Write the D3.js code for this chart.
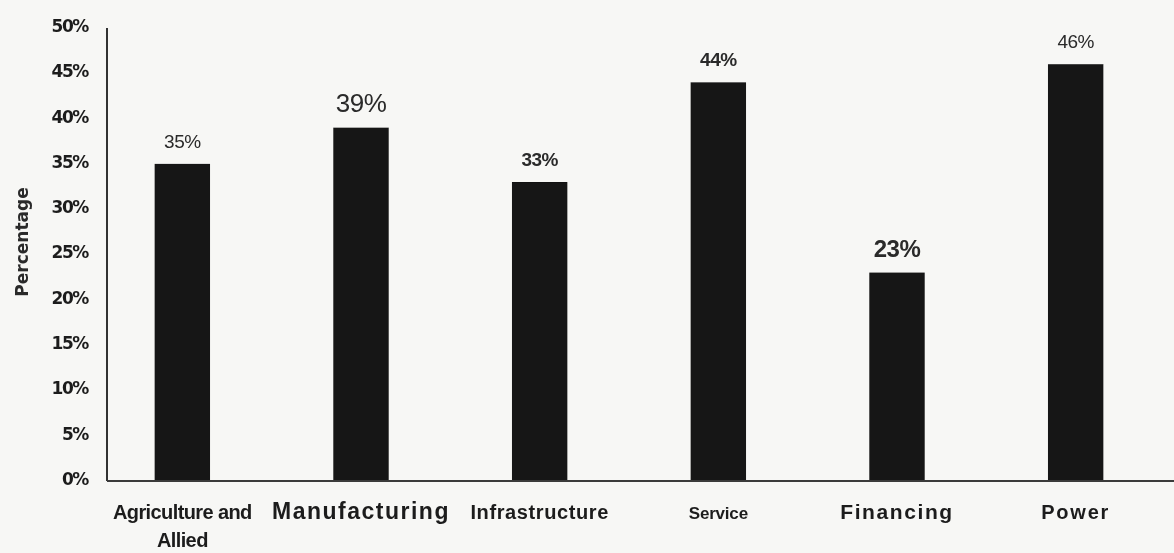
<!DOCTYPE html>
<html>
<head>
<meta charset="utf-8">
<script src="https://cdn.jsdelivr.net/npm/d3@7"></script>
<style>
  html, body { margin: 0; padding: 0; background: #f7f7f5; }
  svg { display: block; }
</style>
</head>
<body>
<svg id="chart" width="1174" height="553"></svg>
<script>
// Share by sector (percent)
const categories = ["Agriculture and Allied", "Manufacturing", "Infrastructure", "Service", "Financing", "Power"];
const values = [35, 39, 33, 44, 23, 46];
const yTicks = [0, 5, 10, 15, 20, 25, 30, 35, 40, 45, 50];

// Typography for each category and value label
const categoryFont = [
  { size: 20, weight: "bold", spacing: -0.6 },
  { size: 23, weight: "bold", spacing: 1.5 },
  { size: 20, weight: "bold", spacing: 0.6 },
  { size: 17, weight: "bold", spacing: -0.2 },
  { size: 21, weight: "bold", spacing: 1.6 },
  { size: 20, weight: "bold", spacing: 1.8 }
];
const valueFont = [
  { size: 19, weight: "normal" },
  { size: 26, weight: "normal" },
  { size: 19, weight: "bold" },
  { size: 19, weight: "bold" },
  { size: 24, weight: "bold" },
  { size: 19, weight: "normal" }
];

const svg = d3.select("#chart");

// Slight softness of the printed figure
svg.append("defs")
  .append("filter")
  .attr("id", "soft")
  .append("feGaussianBlur")
  .attr("stdDeviation", 0.55);

const root = svg.append("g").attr("filter", "url(#soft)");
const axisX = 107;

const x = d3.scaleBand()
  .domain(categories)
  .range([93, 1165])
  .paddingInner(0.69)
  .paddingOuter(0.345);

const y = d3.scaleLinear()
  .domain([0, 50])
  .range([481, 28]);

// Bars
root.append("g")
  .selectAll("rect")
  .data(categories)
  .join("rect")
  .attr("x", d => x(d))
  .attr("y", (d, i) => y(values[i]))
  .attr("width", x.bandwidth())
  .attr("height", (d, i) => y(0) - y(values[i]))
  .attr("fill", "#121212");

// Value labels above bars
root.append("g")
  .selectAll("text")
  .data(categories)
  .join("text")
  .attr("x", d => x(d) + x.bandwidth() / 2)
  .attr("y", (d, i) => y(values[i]) - 16)
  .attr("text-anchor", "middle")
  .attr("font-family", "Liberation Sans, Arial, sans-serif")
  .attr("font-size", (d, i) => valueFont[i].size)
  .attr("font-weight", (d, i) => valueFont[i].weight)
  .attr("letter-spacing", -0.5)
  .attr("fill", "#2a2a2a")
  .text((d, i) => values[i] + "%");

// Y axis
const yAxis = d3.axisLeft(y)
  .tickValues(yTicks)
  .tickSize(0)
  .tickPadding(19)
  .tickFormat(d => d + "%");

const yG = root.append("g")
  .attr("transform", `translate(${axisX},0)`)
  .call(yAxis);
yG.select(".domain")
  .attr("stroke", "#333")
  .attr("stroke-width", 2)
  .attr("d", `M0,${y(50)}V${y(0)}`);
yG.selectAll("text")
  .attr("font-family", "DejaVu Sans, sans-serif")
  .attr("font-size", 17)
  .attr("font-weight", "bold")
  .attr("letter-spacing", -1.4)
  .attr("fill", "#1e1e1e")
  .attr("dy", "0.2em");

// X axis baseline
root.append("line")
  .attr("x1", axisX)
  .attr("x2", 1174)
  .attr("y1", y(0))
  .attr("y2", y(0))
  .attr("stroke", "#3a3a3a")
  .attr("stroke-width", 2);

// Category labels
const xAxis = d3.axisBottom(x).tickSize(0).tickPadding(0);
const xG = root.append("g")
  .attr("transform", `translate(0,${y(0)})`)
  .call(xAxis);
xG.select(".domain").remove();
xG.selectAll(".tick text").each(function(d, i) {
  const t = d3.select(this);
  const f = categoryFont[i];
  t.text(null)
    .attr("y", 0)
    .attr("dy", null)
    .attr("font-family", "Liberation Sans, Arial, sans-serif")
    .attr("font-size", f.size)
    .attr("font-weight", f.weight)
    .attr("letter-spacing", f.spacing)
    .attr("fill", "#1c1c1c");
  const words = d === "Agriculture and Allied" ? ["Agriculture and", "Allied"] : [d];
  words.forEach((w, k) => {
    t.append("tspan")
      .attr("x", 0)
      .attr("y", 38 + k * 28)
      .text(w);
  });
});

// Y axis title
root.append("text")
  .attr("transform", `translate(28,242) rotate(-90)`)
  .attr("text-anchor", "middle")
  .attr("font-family", "DejaVu Sans, sans-serif")
  .attr("font-size", 17)
  .attr("font-weight", "bold")
  .attr("fill", "#2a2a2a")
  .text("Percentage");
</script>
</body>
</html>
